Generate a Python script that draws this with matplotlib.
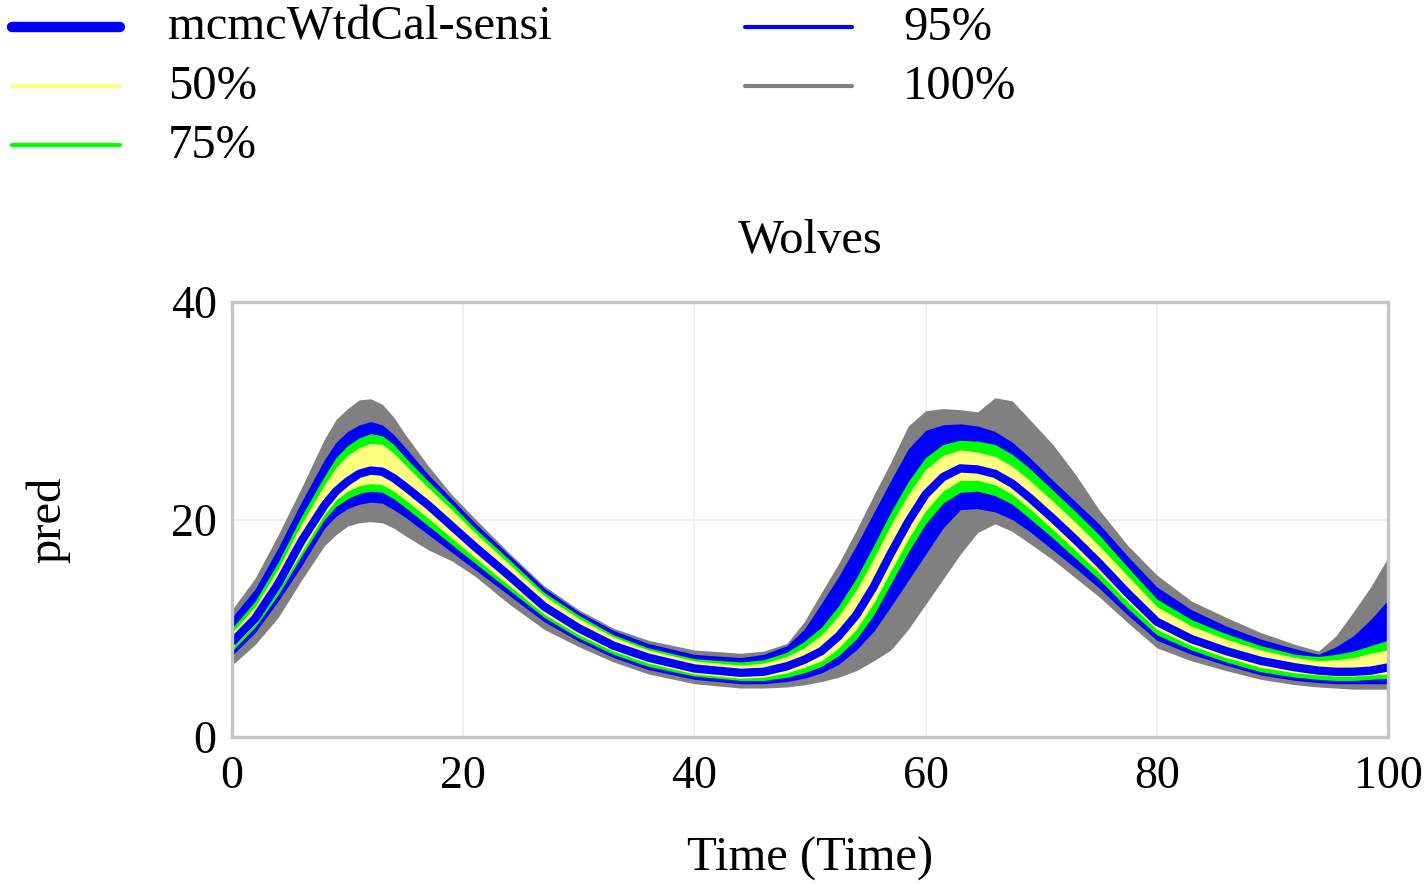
import matplotlib
matplotlib.use("Agg")
import matplotlib.pyplot as plt
from matplotlib.lines import Line2D

plt.rcParams["font.family"] = ["Liberation Serif", "DejaVu Serif"]

# ---------- data ----------
time = [0, 2, 4, 6, 8, 9, 10, 11, 12, 13, 14, 15, 17, 19, 21, 24, 27, 30, 33, 36, 40,
        44, 46, 48, 49.5, 51, 52.5, 54, 55.5, 57, 58.5, 60, 61.5, 63, 64.5, 66, 67.5,
        69, 71, 73, 75, 77.5, 80, 83, 86, 89, 92, 94, 95.5, 97, 98.5, 100]

# base run (mcmcWtdCal-sensi)
median = [8.7, 10.9, 14.1, 18.0, 21.3, 22.6, 23.5, 24.2, 24.5, 24.4, 23.8, 23.0, 21.3,
          19.4, 17.5, 14.8, 12.0, 10.0, 8.4, 7.3, 6.3, 5.9, 6.0, 6.5, 7.1, 7.9, 9.3,
          11.2, 13.8, 16.9, 19.8, 22.3, 23.9, 24.7, 24.6, 24.2, 23.3, 22.0, 20.1, 18.1,
          16.0, 13.2, 10.6, 9.0, 7.9, 7.0, 6.4, 6.1, 6.0, 6.0, 6.1, 6.4]

# 50% band
p25 = [8.2, 10.4, 13.5, 17.0, 20.5, 21.8, 22.6, 23.1, 23.3, 23.2, 22.6, 21.8, 20.1,
       18.3, 16.5, 13.9, 11.3, 9.4, 7.9, 6.8, 5.8, 5.4, 5.5, 5.9, 6.4, 7.0, 8.2, 9.9,
       12.3, 15.3, 18.2, 20.8, 22.6, 23.6, 23.6, 23.2, 22.3, 21.0, 19.1, 17.1, 15.1,
       12.4, 9.9, 8.4, 7.3, 6.4, 5.9, 5.7, 5.6, 5.6, 5.7, 5.8]
p75 = [9.6, 12.0, 15.5, 19.6, 23.2, 24.8, 25.9, 26.6, 27.0, 26.9, 26.1, 25.0, 22.9,
       20.9, 18.8, 15.9, 13.0, 10.9, 9.2, 8.0, 7.0, 6.6, 6.8, 7.4, 8.2, 9.4, 11.2, 13.5,
       16.4, 19.5, 22.3, 24.6, 25.9, 26.4, 26.2, 25.8, 24.9, 23.6, 21.7, 19.7, 17.6,
       14.8, 12.0, 10.2, 9.0, 8.0, 7.3, 7.0, 7.1, 7.3, 7.7, 8.0]

# 75% band
p12_5 = [7.9, 10.1, 13.1, 16.6, 20.0, 21.2, 21.9, 22.4, 22.6, 22.5, 21.9, 21.1, 19.4,
         17.7, 16.0, 13.5, 11.0, 9.1, 7.6, 6.5, 5.6, 5.2, 5.2, 5.5, 5.9, 6.5, 7.5, 9.0,
         11.2, 14.1, 17.0, 19.6, 21.5, 22.5, 22.6, 22.2, 21.4, 20.1, 18.3, 16.4, 14.5,
         11.8, 9.4, 8.0, 6.9, 6.0, 5.5, 5.3, 5.2, 5.2, 5.3, 5.4]
p87_5 = [10.0, 12.5, 16.1, 20.3, 24.0, 25.7, 26.8, 27.5, 27.9, 27.7, 26.9, 25.7, 23.5,
         21.4, 19.2, 16.3, 13.3, 11.2, 9.4, 8.2, 7.2, 6.9, 7.1, 7.8, 8.8, 10.1, 12.1,
         14.6, 17.6, 20.7, 23.5, 25.7, 26.9, 27.3, 27.2, 26.9, 26.0, 24.7, 22.7, 20.7,
         18.6, 15.6, 12.7, 10.8, 9.5, 8.4, 7.6, 7.4, 7.6, 7.9, 8.4, 8.9]

# 95% band
p2_5 = [7.5, 9.6, 12.5, 15.7, 19.2, 20.3, 21.0, 21.4, 21.6, 21.5, 20.9, 20.2, 18.6,
        17.0, 15.4, 13.0, 10.6, 8.8, 7.3, 6.2, 5.3, 4.9, 4.9, 5.1, 5.4, 5.9, 6.7, 8.0,
        9.7, 12.0, 14.4, 16.8, 19.2, 20.9, 21.0, 20.7, 20.0, 18.9, 17.2, 15.5, 13.7,
        11.2, 8.9, 7.6, 6.6, 5.7, 5.2, 5.0, 4.9, 4.9, 4.9, 4.9]
p97_5 = [11.0, 13.6, 17.4, 21.6, 25.5, 27.1, 28.1, 28.7, 29.0, 28.7, 27.8, 26.6, 24.1,
         21.9, 19.7, 16.7, 13.7, 11.5, 9.8, 8.6, 7.6, 7.3, 7.6, 8.4, 9.9, 12.3, 14.8,
         17.6, 20.6, 23.6, 26.5, 28.2, 28.7, 28.8, 28.6, 28.1, 27.1, 25.7, 23.6, 21.6,
         19.6, 16.6, 13.8, 11.7, 10.2, 9.0, 8.1, 7.6, 8.3, 9.3, 10.8, 12.6]

# 100% band
p0 = [6.6, 8.5, 11.0, 14.4, 17.6, 18.6, 19.4, 19.7, 19.8, 19.7, 19.2, 18.5, 17.2,
      16.2, 14.8, 12.2, 9.9, 8.3, 6.9, 5.8, 4.9, 4.5, 4.5, 4.6, 4.8, 5.1, 5.5, 6.1,
      7.0, 8.0, 9.9, 12.2, 14.5, 16.8, 18.8, 19.6, 18.9, 17.8, 16.3, 14.6, 12.9, 10.5,
      8.2, 7.0, 6.1, 5.3, 4.8, 4.6, 4.5, 4.4, 4.4, 4.4]
p100 = [11.7, 14.6, 18.6, 22.9, 27.4, 29.2, 30.2, 31.0, 31.1, 30.6, 29.4, 27.8, 24.9,
        22.3, 20.1, 16.9, 13.9, 11.7, 10.0, 8.9, 8.0, 7.7, 7.9, 8.6, 10.6, 13.3, 16.0,
        19.0, 22.2, 25.3, 28.6, 30.0, 30.2, 30.1, 29.9, 31.2, 30.9, 29.2, 26.9, 24.1,
        20.9, 17.6, 14.9, 12.5, 11.0, 9.6, 8.5, 7.9, 9.3, 11.5, 13.8, 16.5]

x_ticks = [0, 20, 40, 60, 80, 100]
y_ticks = [0, 20, 40]

GRAY = "#808080"
BLUE = "#0000ff"
GREEN = "#00ff00"
YELLOW = "#ffff80"

# ---------- figure ----------
fig = plt.figure(figsize=(14.27, 8.84), dpi=100)
ax = fig.add_axes([232 / 1427, 1 - 737 / 884, (1388 - 232) / 1427, (737 - 302) / 884])

ax.fill_between(time, p0, p100, color=GRAY, lw=0)
ax.fill_between(time, p2_5, p97_5, color=BLUE, lw=0)
ax.fill_between(time, p12_5, p87_5, color=GREEN, lw=0)
ax.fill_between(time, p25, p75, color=YELLOW, lw=0)
ax.plot(time, median, color=BLUE, lw=6.0, solid_capstyle="butt", solid_joinstyle="round")

ax.set_xlim(0, 100)
ax.set_ylim(0, 40)
ax.set_xticks(x_ticks)
ax.set_yticks(y_ticks)
ax.grid(True, color="#efefef", lw=1.5)
ax.set_axisbelow(True)
for s in ax.spines.values():
    s.set_color("#c4c4c4")
    s.set_linewidth(2.4)
ax.tick_params(length=0, labelsize=33)
ax.tick_params(axis="x", pad=13)
ax.tick_params(axis="y", pad=11)

ax.set_title("Wolves", fontsize=35, pad=36)
ax.set_xlabel("Time (Time)", fontsize=35, labelpad=28)
ax.set_ylabel("pred", fontsize=35, labelpad=72)

# ---------- legend (drawn by hand, two columns) ----------
def fx(px):
    return px / 1427


def fy(py):
    return 1 - py / 884


legend_rows = [
    ("mcmcWtdCal-sensi", BLUE, 7.5, 12, 120, 168, 27),
    ("50%", YELLOW, 3.0, 12, 120, 168, 86),
    ("75%", GREEN, 3.0, 12, 120, 168, 145),
    ("95%", BLUE, 3.0, 745, 852, 903, 27),
    ("100%", GRAY, 3.0, 745, 852, 903, 86),
]
for label, col, lw, x0, x1, xt, yy in legend_rows:
    fig.add_artist(Line2D([fx(x0), fx(x1)], [fy(yy), fy(yy)], color=col, lw=lw,
                          solid_capstyle="round", transform=fig.transFigure))
    fig.text(fx(xt), fy(yy + 1), label, fontsize=35, va="center", ha="left")

fig.savefig("out.png", dpi=100)
